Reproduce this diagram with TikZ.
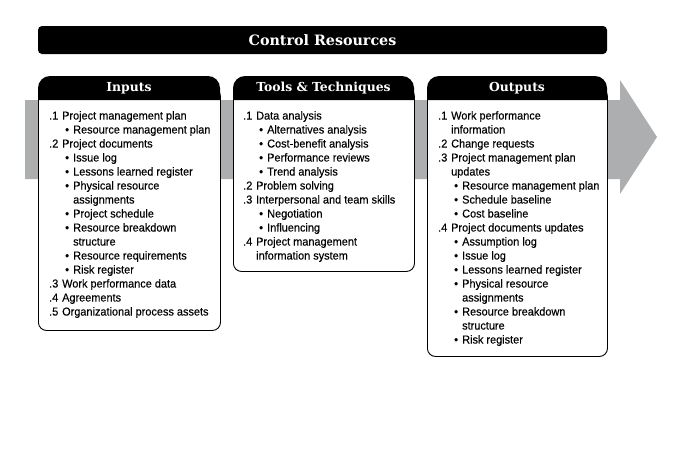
\documentclass[tikz,border=0pt]{standalone}
\usepackage{fontspec}
\setmainfont{Liberation Sans}[FakeStretch=0.95,FakeBold=0.25]
\newfontfamily\slab{DejaVu Serif}
\definecolor{flowgray}{HTML}{ACAEB0}
% list helpers: numbered entry, bullet entry, and their wrapped continuations
\newcommand\numi[1]{\makebox[13pt][l]{#1}}
\newcommand\bul{\hspace*{16pt}\makebox[8pt][l]{\textbullet}}
\newcommand\numc{\hspace*{13pt}}
\newcommand\bulc{\hspace*{24pt}}
\begin{document}
\begin{tikzpicture}[x=1pt,y=-1pt,
  headtext/.style={text=white,font=\slab\bfseries\fontsize{12.4}{14}\selectfont,inner sep=0pt},
  bodybox/.style={draw=black,line width=0.9pt,fill=white,rounded corners=8pt,anchor=north west,inner sep=0pt},
  listtext/.style={anchor=north west,align=left,inner sep=0pt,font=\fontsize{11.5}{14}\selectfont}]
\useasboundingbox (0,0) rectangle (691,455);

% title bar
\node[fill=black,rounded corners=4pt,minimum width=569pt,minimum height=28pt,inner sep=0pt,
      text=white,font=\slab\bfseries\fontsize{14.3}{16}\selectfont] (title) at (322.5,40) {Control Resources};

% grey flow arrow behind the three boxes
\fill[flowgray] (25,100) -- (620,100) -- (620,80) -- (657,137) -- (620,194) -- (620,179) -- (25,179) -- cycle;

% box bodies
\node[bodybox,minimum width=182pt,minimum height=242pt] (bin) at (38,88) {};
\node[bodybox,minimum width=181pt,minimum height=183pt] (btt) at (233,88) {};
\node[bodybox,minimum width=180pt,minimum height=268pt] (bout) at (427,88) {};

% black headers
\fill (38,100) [rounded corners=12pt] -- (38,76) -- (220,76) [sharp corners] -- (220,100) -- cycle;
\fill (233,100) [rounded corners=12pt] -- (233,76) -- (414,76) [sharp corners] -- (414,100) -- cycle;
\fill (427,100) [rounded corners=12pt] -- (427,76) -- (607,76) [sharp corners] -- (607,100) -- cycle;
\node[headtext] (hin) at (129,88.5) {Inputs};
\node[headtext] (htt) at (323.5,88.5) {Tools \& Techniques};
\node[headtext] (hout) at (517,88.5) {Outputs};

% lists
\node[listtext] (lin) at (49,111) {%
\numi{.1}Project management plan\\
\bul Resource management plan\\
\numi{.2}Project documents\\
\bul Issue log\\
\bul Lessons learned register\\
\bul Physical resource\\
\bulc assignments\\
\bul Project schedule\\
\bul Resource breakdown\\
\bulc structure\\
\bul Resource requirements\\
\bul Risk register\\
\numi{.3}Work performance data\\
\numi{.4}Agreements\\
\numi{.5}Organizational process assets};

\node[listtext] (ltt) at (243,111) {%
\numi{.1}Data analysis\\
\bul Alternatives analysis\\
\bul Cost-benefit analysis\\
\bul Performance reviews\\
\bul Trend analysis\\
\numi{.2}Problem solving\\
\numi{.3}Interpersonal and team skills\\
\bul Negotiation\\
\bul Influencing\\
\numi{.4}Project management\\
\numc information system};

\node[listtext] (lout) at (438,111) {%
\numi{.1}Work performance\\
\numc information\\
\numi{.2}Change requests\\
\numi{.3}Project management plan\\
\numc updates\\
\bul Resource management plan\\
\bul Schedule baseline\\
\bul Cost baseline\\
\numi{.4}Project documents updates\\
\bul Assumption log\\
\bul Issue log\\
\bul Lessons learned register\\
\bul Physical resource\\
\bulc assignments\\
\bul Resource breakdown\\
\bulc structure\\
\bul Risk register};
\end{tikzpicture}
\end{document}
